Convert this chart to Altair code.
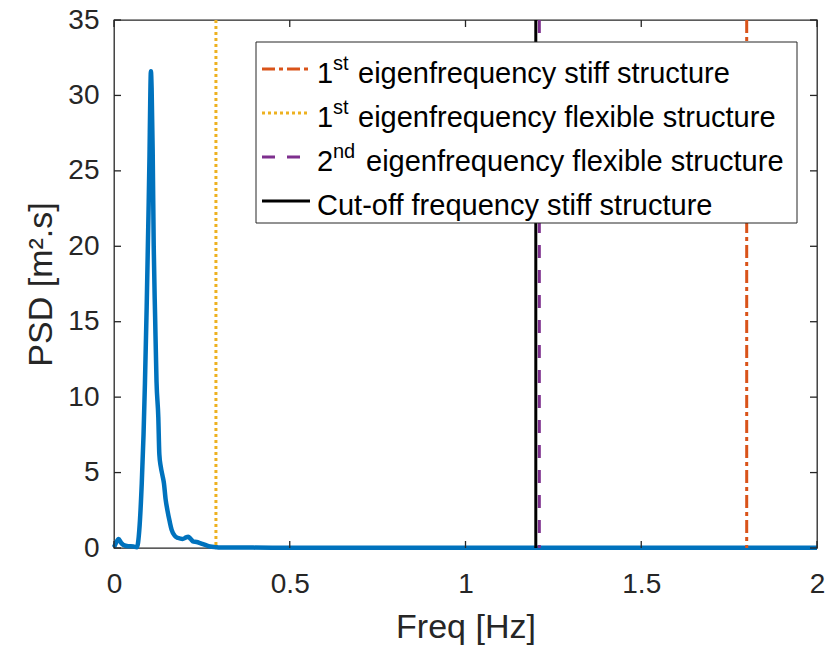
import altair as alt
import pandas as pd

# ---------------- data ----------------
freq = [0.0, 0.006, 0.013, 0.02, 0.027, 0.04, 0.055, 0.065, 0.072, 0.079, 0.084, 0.088,
        0.093, 0.098, 0.101, 0.103, 0.105, 0.107, 0.110, 0.113, 0.117, 0.121, 0.126,
        0.129, 0.133, 0.138, 0.142, 0.147, 0.152, 0.158, 0.164, 0.173, 0.183, 0.195,
        0.205, 0.211, 0.218, 0.226, 0.235, 0.245, 0.26, 0.273, 0.29, 0.30, 0.35, 0.45,
        0.6, 0.8, 1.0, 1.2, 1.5, 1.8, 2.0]
psd = [0.05, 0.35, 0.6, 0.35, 0.2, 0.12, 0.1, 0.05, 1.2, 4.3, 7.5, 10.9,
       16.0, 22.0, 26.0, 29.5, 31.6, 30.5, 26.4, 20.0, 15.3, 11.0, 8.7,
       6.2, 5.4, 4.8, 4.3, 3.2, 2.5, 1.8, 1.2, 0.8, 0.66, 0.6,
       0.7, 0.75, 0.6, 0.42, 0.4, 0.33, 0.2, 0.1, 0.05, 0.03, 0.03, 0.02,
       0.02, 0.02, 0.02, 0.02, 0.02, 0.02, 0.02]

f_stiff_1st = [1.8]       # 1st eigenfrequency stiff structure
f_flex_1st = [0.29]       # 1st eigenfrequency flexible structure
f_flex_2nd = [1.21]       # 2nd eigenfrequency flexible structure
f_cutoff = [1.2]          # cut-off frequency stiff structure

x_ticks = [0, 0.5, 1, 1.5, 2]
y_ticks = [0, 5, 10, 15, 20, 25, 30, 35]

legend_base = ["1", "1", "2", "Cut-off frequency stiff structure"]
legend_sup = ["st", "st", "nd", ""]
legend_rest = ["eigenfrequency stiff structure",
               "eigenfrequency flexible structure",
               "eigenfrequency flexible structure", ""]

# ---------------- styles / layout ----------------
FONT = "Liberation Sans"
AX = "#262626"
W, H = 703, 528
BLUE, ORANGE, YELLOW, PURPLE = "#0072BD", "#D95319", "#EDB120", "#7E2F8E"
line_styles = [
    (ORANGE, [13, 4, 4, 4]),
    (YELLOW, [3, 3]),
    (PURPLE, [13, 12]),
    ("black", None),
]

xs = alt.Scale(domain=[0, 2], nice=False, zero=False)
ys = alt.Scale(domain=[0, 35], nice=False, zero=False)
x_axis = alt.Axis(values=x_ticks, format="~g", title="Freq [Hz]",
                  labelPadding=22, titlePadding=12, labelFlush=False)
y_axis = alt.Axis(values=y_ticks, format="~g", title="PSD [m².s]",
                  labelPadding=15, titlePadding=9)


def X():
    return alt.X("f:Q", scale=xs, axis=x_axis, title="Freq [Hz]")


def Y():
    return alt.Y("p:Q", scale=ys, axis=y_axis, title="PSD [m².s]")


psd_df = pd.DataFrame({"f": freq, "p": psd})

psd_line = alt.Chart(psd_df).mark_line(
    color=BLUE, strokeWidth=4.5, interpolate="monotone").encode(
    x=X(), y=Y(), order=alt.Order("f:Q"))


def vline(vals, color, dash):
    kw = dict(color=color, strokeWidth=3)
    if dash:
        kw["strokeDash"] = dash
    return alt.Chart(pd.DataFrame({"f": vals})).mark_rule(**kw).encode(x=X())


vlines = [vline(v, c, d) for v, (c, d) in
          zip([f_stiff_1st, f_flex_1st, f_flex_2nd, f_cutoff], line_styles)]

xt_df = pd.DataFrame({"f": x_ticks})
yt_df = pd.DataFrame({"p": y_ticks})
TL = 7
tick_layers = [
    alt.Chart(xt_df).mark_rule(color=AX, strokeWidth=1.3).encode(
        x=X(), y=alt.value(H), y2=alt.value(H - TL)),
    alt.Chart(xt_df).mark_rule(color=AX, strokeWidth=1.3).encode(
        x=X(), y=alt.value(0), y2=alt.value(TL)),
    alt.Chart(yt_df).mark_rule(color=AX, strokeWidth=1.3).encode(
        y=Y(), x=alt.value(0), x2=alt.value(TL)),
    alt.Chart(yt_df).mark_rule(color=AX, strokeWidth=1.3).encode(
        y=Y(), x=alt.value(W - TL), x2=alt.value(W)),
]

one = alt.Data(values=[{"a": 1}])
legend_layers = [
    alt.Chart(one).mark_rect(fill="white", stroke=AX, strokeWidth=1).encode(
        x=alt.value(142), x2=alt.value(683), y=alt.value(22), y2=alt.value(203))
]
row_y = [49, 93, 137, 181]
BASE_X, SUP_X = 203, 219
rest_x = [244, 244, 252, 0]
FS, SFS = 29, 20
for i in range(4):
    c, d = line_styles[i]
    kw = dict(color=c, strokeWidth=3)
    if d:
        kw["strokeDash"] = d
    legend_layers.append(alt.Chart(one).mark_rule(**kw).encode(
        x=alt.value(148), x2=alt.value(196), y=alt.value(row_y[i])))
    legend_layers.append(alt.Chart(one).mark_text(
        align="left", baseline="alphabetic", font=FONT, fontSize=FS, color="black").encode(
        x=alt.value(BASE_X), y=alt.value(row_y[i] + 14), text=alt.value(legend_base[i])))
    if legend_sup[i]:
        legend_layers.append(alt.Chart(one).mark_text(
            align="left", baseline="alphabetic", font=FONT, fontSize=SFS, color="black").encode(
            x=alt.value(SUP_X), y=alt.value(row_y[i] + 1), text=alt.value(legend_sup[i])))
    if legend_rest[i]:
        legend_layers.append(alt.Chart(one).mark_text(
            align="left", baseline="alphabetic", font=FONT, fontSize=FS, color="black").encode(
            x=alt.value(rest_x[i]), y=alt.value(row_y[i] + 14), text=alt.value(legend_rest[i])))

chart = alt.layer(psd_line, *vlines, *tick_layers, *legend_layers).properties(
    width=W, height=H, autosize="none",
    padding={"left": 114, "top": 20, "right": 8, "bottom": 101},
    background="white",
).configure_view(stroke=AX, strokeWidth=1.3).configure_axis(
    labelFont=FONT, labelFontSize=28, labelColor=AX,
    titleFont=FONT, titleFontSize=34, titleFontWeight="normal", titleColor=AX,
    tickSize=0, ticks=False, domain=False, grid=False, labelOverlap=False,
)

chart.save("out.html", embed_options={"renderer": "svg", "actions": False})
